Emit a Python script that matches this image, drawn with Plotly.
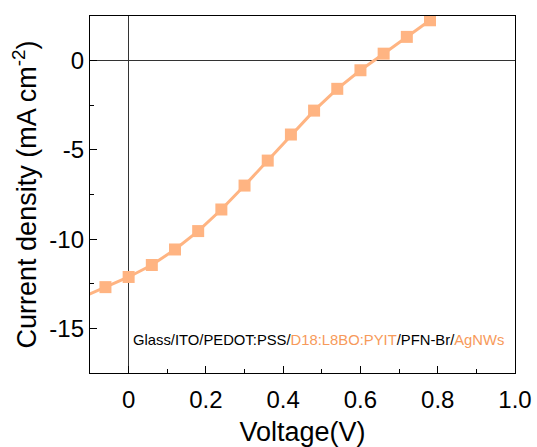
import plotly.graph_objects as go

voltage = [-0.12, -0.06, 0.0, 0.06, 0.12, 0.18, 0.24, 0.30, 0.36, 0.42, 0.48, 0.54, 0.60, 0.66, 0.72, 0.78]
current = [-13.25, -12.69, -12.12, -11.45, -10.58, -9.55, -8.34, -7.0, -5.6, -4.14, -2.8, -1.58, -0.54, 0.39, 1.33, 2.26]

x_ticks = [0, 0.2, 0.4, 0.6, 0.8, 1.0]
x_ticklabels = ["0", "0.2", "0.4", "0.6", "0.8", "1.0"]
y_ticks = [-15, -10, -5, 0]
y_ticklabels = ["-15", "-10", "-5", "0"]

line_color = "#FFB482"
text_orange = "#F79A5A"
font_family = "Arial, Liberation Sans, sans-serif"

fig = go.Figure()
fig.add_trace(go.Scatter(
    x=voltage, y=current, mode="lines+markers",
    line=dict(color=line_color, width=3),
    marker=dict(symbol="square", size=12, color=line_color),
    showlegend=False,
))

fig.add_annotation(
    x=0.005, y=-15.67, xref="x", yref="y", xanchor="left", yanchor="middle",
    showarrow=False,
    text=("Glass/ITO/PEDOT:PSS/<span style='color:%s'>D18:L8BO:PYIT</span>"
          "/PFN-Br/<span style='color:%s'>AgNWs</span>") % (text_orange, text_orange),
    font=dict(family=font_family, size=14.8, color="#000000"),
)

axis_common = dict(
    showline=True, linecolor="#000000", linewidth=1.4, mirror=True,
    ticks="inside", ticklen=7, tickwidth=1.2, tickcolor="#000000",
    showgrid=False, zeroline=True, zerolinecolor="#333333", zerolinewidth=1.4,
    tickfont=dict(family=font_family, size=24, color="#000000"),
    automargin=False,
)

fig.update_layout(
    width=537, height=447,
    margin=dict(l=90, r=22, t=16, b=74),
    paper_bgcolor="white", plot_bgcolor="white",
    xaxis=dict(
        range=[-0.1, 1.0], tickvals=x_ticks, ticktext=x_ticklabels,
        ticklabelstandoff=5,
        minor=dict(ticks="inside", ticklen=4, tickwidth=1.2, tickcolor="#000000", dtick=0.1, tick0=0),
        title=dict(text="Voltage(V)", font=dict(family=font_family, size=27, color="#000000"), standoff=10),
        **axis_common,
    ),
    yaxis=dict(
        range=[-17.5, 2.5], tickvals=y_ticks, ticktext=y_ticklabels,
        minor=dict(ticks="inside", ticklen=4, tickwidth=1.2, tickcolor="#000000", dtick=2.5, tick0=0),
        title=dict(text="Current density (mA cm<sup>-2</sup>)", font=dict(family=font_family, size=27, color="#000000"), standoff=4),
        **axis_common,
    ),
)

fig.write_html("out.html")
